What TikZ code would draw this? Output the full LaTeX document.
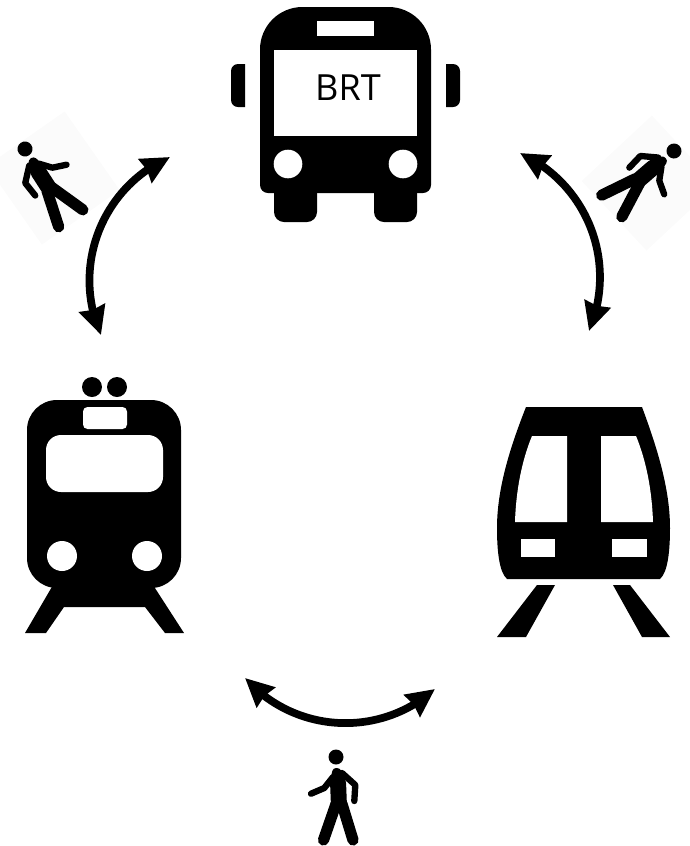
\documentclass[tikz,border=0pt]{standalone}
\usepackage{fontspec}
\usetikzlibrary{arrows.meta,bending}
\newfontfamily\brtfont{Open Sans}
\begin{document}
\begin{tikzpicture}[
  x=0.02cm, y=-0.02cm,
  iconblack/.style = {fill=black},
  iconhole/.style = {fill=white},
  transfer/.style = {line width=4.4pt, {Stealth[length=16pt,width=15pt,inset=1pt,flex]}-{Stealth[length=16pt,width=15pt,inset=1pt,flex]}},
  walkerlimb/.style = {draw=black, line cap=round, line join=round},
  walkerhaze/.style = {fill=black!1.5},
  walker/.pic = {
    \fill[iconblack] (0,0) circle (7.5);
    \fill[iconblack, rounded corners=0.06cm] (-3,11) -- (4,11) -- (10,24) -- (11,50) -- (-5,50) -- (-6,24) -- cycle;
    \draw[walkerlimb, line width=6.4pt] (0,47) -- (-12.5,83);
    \draw[walkerlimb, line width=6.4pt] (6,47) -- (17,83);
    \draw[walkerlimb, line width=3.6pt] (-3,20) -- (-11.7,31) -- (-25,36.7);
    \draw[walkerlimb, line width=3.6pt] (6,16) -- (19.3,28) -- (18.3,44);
  },
  walkerbg/.pic = {
    \fill[walkerhaze] (-41,-8) rectangle (54,88);
  }
]
  \useasboundingbox (0,0) rectangle (690,846);
  % bus
  \fill[iconblack, rounded corners=0.85cm] (260,100) -- (260,7) -- (431,7) -- (431,100)
    [rounded corners=0.16cm] -- (431,193) -- (260,193) -- cycle;
  \fill[iconblack, rounded corners=0.2cm] (274,180) rectangle (317,222);
  \fill[iconblack, rounded corners=0.2cm] (374,180) rectangle (417,222);
  \fill[iconblack, rounded corners=0.14cm] (245,64) -- (231,64) -- (231,107) -- (245,107);
  \fill[iconblack, rounded corners=0.14cm] (446,64) -- (460,64) -- (460,107) -- (446,107);
  \fill[iconhole] (317,21) rectangle (374,36);
  \fill[iconhole] (274,50) rectangle (417,136);
  \fill[iconhole] (288,164) circle (14.3);
  \fill[iconhole] (403,164) circle (14.3);
  \node (brtlabel) at (348,88) {\brtfont\fontsize{20.5pt}{24pt}\selectfont BRT};
  % train
  \fill[iconblack] (92,387) circle (10);
  \fill[iconblack] (117,387) circle (10);
  \fill[iconblack, rounded corners=0.6cm] (27,400) rectangle (181,588);
  \fill[iconblack] (53,585) -- (25,633) -- (46,633) -- (64,607) -- (145,607) -- (165,633) -- (184,633) -- (153,585) -- cycle;
  \fill[iconhole, rounded corners=0.09cm] (83,407) rectangle (127,429);
  \fill[iconhole, rounded corners=0.3cm] (46,435) rectangle (163,492);
  \fill[iconhole] (62,556) circle (15);
  \fill[iconhole] (147,556) circle (15);
  % metro
  \fill[iconblack] (526,407) -- (642,407) .. controls (658,450) and (670,490) .. (670,528)
    .. controls (670,550) and (668,572) .. (660,579) -- (507,579)
    .. controls (499,572) and (497,550) .. (497,528) .. controls (497,490) and (509,450) .. (526,407) -- cycle;
  \fill[iconhole] (532,436) -- (567,436) -- (567,522) -- (515,522) .. controls (516,490) and (522,460) .. (532,436) -- cycle;
  \fill[iconhole] (636,436) -- (601,436) -- (601,522) -- (653,522) .. controls (652,490) and (646,460) .. (636,436) -- cycle;
  \fill[iconhole] (521,539) rectangle (555,557);
  \fill[iconhole] (612,539) rectangle (647,557);
  \fill[iconblack] (537,585) -- (555,585) -- (526,637) -- (497,637) -- cycle;
  \fill[iconblack] (613,585) -- (630,585) -- (670,637) -- (642,637) -- cycle;
  % walkers
  \pic at (25,149) [rotate=35] {walkerbg};
  \pic at (674,151) [rotate=-47] {walkerbg};
  \pic at (25,149) [rotate=35, xscale=-1] {walker};
  \pic at (674,151) [rotate=-47, xscale=-1] {walker};
  \pic at (336,757) {walker};
  % transfer arrows
  \coordinate (bushleft) at (170,157);
  \coordinate (trainend) at (101,335);
  \coordinate (busright) at (520,153);
  \coordinate (metroend) at (589,331);
  \coordinate (trainfoot) at (245,678);
  \coordinate (metrofoot) at (435,689);
  \draw[transfer] (bushleft) to[bend right=45] (trainend);
  \draw[transfer] (busright) to[bend left=44] (metroend);
  \draw[transfer] (trainfoot) to[bend right=45] (metrofoot);
\end{tikzpicture}
\end{document}
